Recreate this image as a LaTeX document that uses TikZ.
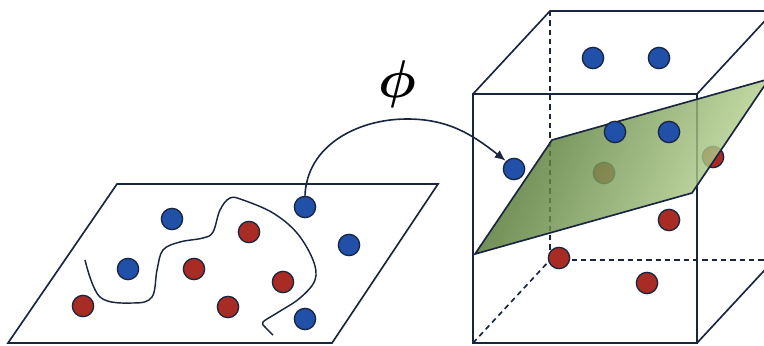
\documentclass[tikz,border=0pt]{standalone}
\usepackage{amsmath, amssymb}
\usepackage{xcolor}
\usepackage{tikz}
\usetikzlibrary{arrows, arrows.meta, positioning, calc}
\definecolor{lineblue}{RGB}{26,37,64}
\definecolor{dotblue}{RGB}{32,80,168}
\definecolor{dotred}{RGB}{168,44,36}
\definecolor{planedark}{RGB}{66,104,36}
\definecolor{planelight}{RGB}{196,222,158}
\tikzset{
  >=latex,  % frecce latex
  % punti dei dati
  dot/.style={circle,draw=lineblue,line width=1pt,minimum size=16pt,inner sep=0pt},
  dot blue/.style={dot,fill=dotblue},
  dot red/.style={dot,fill=dotred},
  % linee
  edge/.style={line width=1.25pt,lineblue},
  edge hidden/.style={edge,dash pattern=on 4pt off 3pt},
  connect arrow/.style={-{Latex[length=8,width=7]},line width=1.2pt,lineblue,shorten >=0.5}
}
\begin{document}
\begin{tikzpicture}[x=0.75pt,y=0.75pt]
        \useasboundingbox (0,0) rectangle (764,346);
        \clip (0,0) rectangle (764,346);
        % spazio di partenza
        \draw[edge] (117,162) -- (438,162) -- (332,3) -- (8,3) -- cycle;
        \draw[edge,line width=1.1pt] plot[smooth,tension=0.6] coordinates{(85,86) (100,49) (133,43) (152,49)
          (157,76) (163,96) (180,104) (203,108) (213,114) (220,136) (230,148) (243,146) (273,133)
          (297,113) (313,86) (315,66) (300,48) (277,33) (263,24) (265,19) (273,11)};
        \node[dot blue] (l1) at (172,127){};
        \node[dot blue] (l2) at (305,139){};
        \node[dot red]  (l3) at (249,114){};
        \node[dot blue] (l4) at (349,101){};
        \node[dot blue] (l5) at (128,77){};
        \node[dot red]  (l6) at (194,77){};
        \node[dot red]  (l7) at (283,64){};
        \node[dot red]  (l8) at (83,40){};
        \node[dot red]  (l9) at (228,39){};
        \node[dot blue] (l10) at (305,27){};
        % cubo
        \coordinate (f1) at (473,3);
        \coordinate (f2) at (697,3);
        \coordinate (f3) at (697,252);
        \coordinate (f4) at (473,252);
        \coordinate (b1) at (550,86);
        \coordinate (b2) at (774,86);
        \coordinate (b3) at (774,335);
        \coordinate (b4) at (550,335);
        \draw[edge hidden] (b4) -- (b1) -- (b2);
        \draw[edge hidden] (f1) -- (b1);
        \draw[edge] (f1) -- (f2) -- (f3) -- (f4) -- cycle;
        \draw[edge] (f4) -- (b4) -- (b3) -- (b2) -- (f2);
        \draw[edge] (f3) -- (b3);
        % punti nello spazio delle feature
        \node[dot blue] (r1) at (593,288){};
        \node[dot blue] (r2) at (659,288){};
        \node[dot blue] (r3) at (514,177){};
        \node[dot red]  (r4) at (604,173){};
        \node[dot red]  (r5) at (713,189){};
        \node[dot red]  (r6) at (669,126){};
        \node[dot red]  (r7) at (559,88){};
        \node[dot red]  (r8) at (647,63){};
        % iperpiano
        \draw[edge,left color=planedark,right color=planelight,shading angle=65,fill opacity=0.82]
          (475,92) -- (552,206) -- (769,267) -- (692,153) -- cycle;
        \node[dot blue] (r9) at (615,214){};
        \node[dot blue] (r10) at (669,214){};
        % mappa
        \draw[connect arrow] (l2.north) to[out=88,in=180] (407,227) to[out=0,in=142] (r3.north west);
        \node[scale=1.6] (phi) at (397,262){\Huge$\boldsymbol{\phi}$};
      \end{tikzpicture}
\end{document}
